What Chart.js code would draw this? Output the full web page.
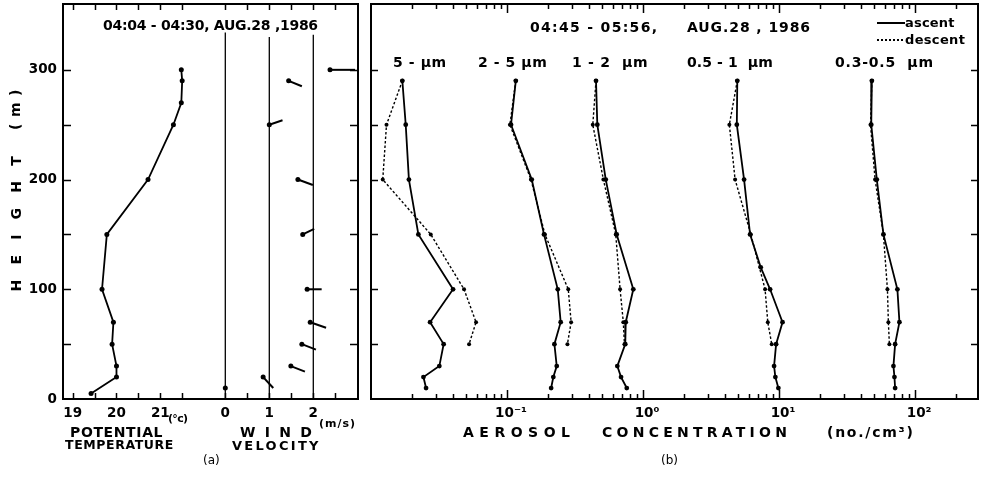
<!DOCTYPE html>
<html>
<head>
<meta charset="utf-8">
<script src="https://cdn.jsdelivr.net/npm/chart.js@4.4.1/dist/chart.umd.min.js"></script>
<style>
body { margin: 0; background: #fff; }
#page { position: relative; width: 982px; height: 477px; overflow: hidden; background: #fff; }
#page canvas { position: absolute; top: 0; }
.lbl { position: absolute; font-family: 'DejaVu Sans', sans-serif; font-weight: bold; font-size: 14px;
       line-height: 1; white-space: pre; color: #000; }
.key { position: absolute; height: 1.6px; width: 28px; }
</style>
</head>
<body>
<div id="page">
  <canvas id="chartA" width="362" height="477" style="left:0px"></canvas>
  <canvas id="chartB" width="620" height="477" style="left:362px"></canvas>
  <div class="key" style="left:877px; top:22px; background:#000"></div>
  <div class="key" style="left:877px; top:39px; background:repeating-linear-gradient(to right,#000 0 2px,transparent 2px 4px)"></div>
</div>
<script>
// ---- (a) potential temperature ----
const tempHeights = [300, 290, 270, 250, 200, 150, 100, 70, 50, 30, 20, 5];
const tempValues  = [21.48, 21.5, 21.48, 21.3, 20.72, 19.78, 19.67, 19.93, 19.9, 20.0, 20.0, 19.42];

// ---- (a) wind: dot at the speed, stick drawn out to its end point ----
const windHeights     = [10, 20, 30, 50, 70, 100, 150, 200, 250, 290, 300];
const windSpeeds      = [0, 0.86, 1.49, 1.74, 1.93, 1.86, 1.76, 1.65, 1.0, 1.44, 2.38];
const stickEndSpeeds  = [0, 1.09, 1.81, 2.06, 2.29, 2.19, 2.02, 1.99, 1.30, 1.74, 2.95];
const stickEndHeights = [10, 10, 25, 45, 65, 100, 155, 195, 254, 285, 300];
const windRefSpeeds = [0, 1, 2];
const windRefTops   = [334, 330, 332];

// ---- (b) aerosol concentration (no./cm3) ----
const ascentHeights   = [290, 250, 200, 150, 100, 70, 50, 30, 20, 10];
const ascentHeights05 = [290, 250, 200, 150, 120, 100, 70, 50, 30, 20, 10];
const descentHeights  = [290, 250, 200, 150, 100, 70, 50];

const asc5     = [0.0170, 0.0180, 0.0190, 0.0223, 0.0401, 0.0272, 0.0342, 0.0318, 0.0243, 0.0254];
const desc5    = [0.0170, 0.0130, 0.0122, 0.0275, 0.0483, 0.0592, 0.0526];
const asc2to5  = [0.116, 0.107, 0.152, 0.187, 0.236, 0.248, 0.223, 0.232, 0.219, 0.211];
const desc2to5 = [0.116, 0.105, 0.150, 0.190, 0.282, 0.296, 0.278];
const asc1to2  = [0.451, 0.461, 0.532, 0.640, 0.848, 0.746, 0.740, 0.647, 0.689, 0.759];
const desc1to2 = [0.451, 0.427, 0.511, 0.630, 0.678, 0.716, 0.730];
const asc05to1  = [4.93, 4.89, 5.53, 6.12, 7.33, 8.59, 10.6, 9.51, 9.19, 9.39, 9.88];
const desc05to1 = [4.93, 4.31, 4.75, 6.2, 7.89, 8.26, 8.83];
const asc03to05  = [48.1, 47.6, 52.3, 58.5, 74.1, 76.7, 71.3, 69.3, 70.5, 71.3];
const desc03to05 = [48.1, 47.0, 50.8, 58.5, 62.6, 63.6, 64.7];

const sizeBins = ['5 - µm', '2 - 5 µm', '1 - 2  µm', '0.5 - 1  µm', '0.3-0.5  µm'];

// ---- ticks ----
const heightTicks = [0, 100, 200, 300];
const heightMarks = [50, 100, 150, 200, 250, 300];
const tempTicks = [19, 20, 21];
const tempMarks = [19, 19.5, 20, 20.5, 21, 21.5];
const windTicks = [0, 1, 2];
const windMarks = [0, 0.5, 1, 1.5, 2, 2.5];
const concTicks = [0.1, 1, 10, 100];
const concTickLabels = ['10⁻¹', '10⁰', '10¹', '10²'];
const concMinor = [];
[0.01, 0.1, 1, 10, 100].forEach(d => {
  for (let k = 2; k <= 9; k++) if (d * k < 290) concMinor.push(d * k);
});

Chart.defaults.font.family = "'DejaVu Sans', sans-serif";
Chart.defaults.color = '#000';

const tickFont = { family: "'DejaVu Sans', sans-serif", weight: 'bold', size: 13.5 };

// frame round the plot area plus inward tick marks on all four sides
const frameTicks = {
  id: 'frameTicks',
  afterDatasetsDraw(chart, args, opts) {
    const ctx = chart.ctx;
    const a = chart.chartArea;
    ctx.save();
    ctx.strokeStyle = '#000';
    ctx.lineWidth = 1.5;
    (opts.marks || []).forEach(m => {
      const scale = chart.scales[m.scale];
      m.values.forEach(v => {
        const p = Math.round(scale.getPixelForValue(v)) + 0.5;
        ctx.beginPath();
        if (scale.isHorizontal()) {
          ctx.moveTo(p, a.bottom); ctx.lineTo(p, a.bottom - m.len);
          ctx.moveTo(p, a.top); ctx.lineTo(p, a.top + m.len);
        } else {
          ctx.moveTo(a.left, p); ctx.lineTo(a.left + m.len, p);
          ctx.moveTo(a.right, p); ctx.lineTo(a.right - m.len, p);
        }
        ctx.stroke();
      });
    });
    ctx.lineWidth = 2;
    ctx.strokeRect(a.left, a.top, a.right - a.left, a.bottom - a.top);
    ctx.restore();
  }
};

function points(xs, ys) {
  return xs.map((x, i) => ({ x: x, y: ys[i] }));
}

function fixedTicks(values) {
  return scale => { scale.ticks = values.map(v => ({ value: v })); };
}

function noPad(scale) {
  scale.paddingLeft = scale.paddingRight = scale.paddingTop = scale.paddingBottom = 0;
}

// ---------- panel (a) ----------
const aSets = [{
  data: points(tempValues, tempHeights),
  xAxisID: 'x', yAxisID: 'y',
  showLine: true, borderColor: '#000', borderWidth: 1.8,
  pointRadius: 2.5, pointBackgroundColor: '#000', pointBorderWidth: 0
}];
windRefSpeeds.forEach((w, i) => {
  aSets.push({
    data: [{ x: w, y: 0 }, { x: w, y: windRefTops[i] }],
    xAxisID: 'xw', yAxisID: 'y',
    showLine: true, borderColor: '#000', borderWidth: 1.3, pointRadius: 0
  });
});
windHeights.forEach((h, i) => {
  aSets.push({
    data: [{ x: windSpeeds[i], y: h }, { x: stickEndSpeeds[i], y: stickEndHeights[i] }],
    xAxisID: 'xw', yAxisID: 'y',
    showLine: true, borderColor: '#000', borderWidth: 2,
    pointRadius: [2.5, 0], pointBackgroundColor: '#000', pointBorderWidth: 0
  });
});

new Chart(document.getElementById('chartA'), {
  type: 'scatter',
  data: { datasets: aSets },
  options: {
    responsive: false, animation: false, devicePixelRatio: 1,
    layout: { autoPadding: false, padding: { top: 4, right: 4, left: 0, bottom: 0 } },
    plugins: {
      legend: { display: false }, tooltip: { enabled: false },
      frameTicks: { marks: [
        { scale: 'x', values: tempMarks, len: 6 },
        { scale: 'xw', values: windMarks, len: 6 },
        { scale: 'y', values: heightMarks, len: 8 }
      ] }
    },
    scales: {
      y: {
        min: 0, max: 360,
        afterBuildTicks: fixedTicks(heightTicks),
        afterFit: s => { s.width = 63; noPad(s); },
        grid: { display: false, drawTicks: false }, border: { display: false },
        ticks: { font: tickFont, padding: 6, color: '#000' }
      },
      x: {
        type: 'linear', position: 'bottom',
        min: 18.779, max: 25.514,
        afterBuildTicks: fixedTicks(tempTicks),
        afterFit: s => { s.height = 78; noPad(s); },
        grid: { display: false, drawTicks: false }, border: { display: false },
        ticks: { font: tickFont, padding: 6, color: '#000', autoSkip: false, maxRotation: 0 }
      },
      // wind speed shares the bottom edge, pinned to height 0
      xw: {
        type: 'linear', position: { y: 0 },
        min: -3.689, max: 3.016,
        afterBuildTicks: fixedTicks(windTicks),
        afterFit: noPad,
        grid: { display: false, drawTicks: false }, border: { display: false },
        ticks: { font: tickFont, padding: 6, color: '#000', autoSkip: false, maxRotation: 0 }
      }
    }
  },
  plugins: [frameTicks]
});

// ---------- panel (b) ----------
const ascentSeries  = [asc5, asc2to5, asc1to2, asc05to1, asc03to05];
const descentSeries = [desc5, desc2to5, desc1to2, desc05to1, desc03to05];
const bSets = [];
ascentSeries.forEach((vals, i) => {
  bSets.push({
    label: sizeBins[i] + ' ascent',
    data: points(vals, vals === asc05to1 ? ascentHeights05 : ascentHeights),
    showLine: true, borderColor: '#000', borderWidth: 1.8,
    pointRadius: 2.4, pointBackgroundColor: '#000', pointBorderWidth: 0
  });
  bSets.push({
    label: sizeBins[i] + ' descent',
    data: points(descentSeries[i], descentHeights),
    showLine: true, borderColor: '#000', borderWidth: 1.4, borderDash: [2.5, 2],
    pointRadius: 2, pointBackgroundColor: '#000', pointBorderWidth: 0
  });
});

new Chart(document.getElementById('chartB'), {
  type: 'scatter',
  data: { datasets: bSets },
  options: {
    responsive: false, animation: false, devicePixelRatio: 1,
    layout: { autoPadding: false, padding: { top: 4, right: 4, left: 9, bottom: 0 } },
    plugins: {
      legend: { display: false }, tooltip: { enabled: false },
      frameTicks: { marks: [
        { scale: 'x', values: concTicks, len: 9 },
        { scale: 'x', values: concMinor, len: 5 },
        { scale: 'y', values: heightMarks, len: 7 }
      ] }
    },
    scales: {
      y: { display: false, min: 0, max: 360 },
      x: {
        type: 'logarithmic', position: 'bottom',
        min: 0.01, max: 290,
        afterBuildTicks: fixedTicks(concTicks),
        afterFit: s => { s.height = 78; noPad(s); },
        grid: { display: false, drawTicks: false }, border: { display: false },
        ticks: {
          font: tickFont, padding: 6, color: '#000', autoSkip: false, maxRotation: 0,
          labelOffset: 4,
          callback: v => { const k = concTicks.indexOf(v); return k < 0 ? '' : concTickLabels[k]; }
        }
      }
    }
  },
  plugins: [frameTicks]
});

// ---------- text ----------
const page = document.getElementById('page');
function addLabel(text, x, cy, w, opt) {
  opt = opt || {};
  const el = document.createElement('div');
  el.className = 'lbl';
  el.textContent = text;
  if (opt.size) el.style.fontSize = opt.size + 'px';
  if (opt.normal) el.style.fontWeight = 'normal';
  page.appendChild(el);
  const n = [...text].length;
  if (w && n > 1) el.style.letterSpacing = ((w - el.offsetWidth) / (n - 1)) + 'px';
  const h = el.offsetHeight;
  if (opt.rotate) {
    el.style.width = w + 'px';
    el.style.left = (x - w / 2) + 'px';
    el.style.top = (cy - h / 2) + 'px';
    el.style.transform = 'rotate(-90deg)';
  } else {
    el.style.left = x + 'px';
    el.style.top = (cy - h / 2) + 'px';
  }
}

addLabel('04:04 - 04:30, AUG.28 ,1986', 103, 25, 215);
addLabel('HEIGHT', 15, 224, 135, { rotate: true });
addLabel('(m)', 15, 110, 40, { rotate: true });
addLabel('(°c)', 168, 418, 20, { size: 11 });
addLabel('(m/s)', 319, 423, 36, { size: 11 });
addLabel('POTENTIAL', 70, 432, 93);
addLabel('TEMPERATURE', 65, 445, 108, { size: 12.5 });
addLabel('WIND', 240, 432, 72);
addLabel('VELOCITY', 232, 445, 86, { size: 13 });
addLabel('(a)', 203, 460, 0, { size: 12, normal: true });

addLabel('04:45 - 05:56,', 530, 27, 127);
addLabel('AUG.28 , 1986', 687, 27, 123);
addLabel('ascent', 905, 22, 50, { size: 13 });
addLabel('descent', 905, 39, 60, { size: 13 });
addLabel(sizeBins[0], 393, 62, 53);
addLabel(sizeBins[1], 478, 62, 69);
addLabel(sizeBins[2], 572, 62, 76);
addLabel(sizeBins[3], 687, 62, 86);
addLabel(sizeBins[4], 835, 62, 98);
addLabel('AEROSOL', 463, 432, 107);
addLabel('CONCENTRATION', 602, 432, 185);
addLabel('(no./cm³)', 827, 432, 86);
addLabel('(b)', 661, 460, 0, { size: 12, normal: true });
</script>
</body>
</html>
